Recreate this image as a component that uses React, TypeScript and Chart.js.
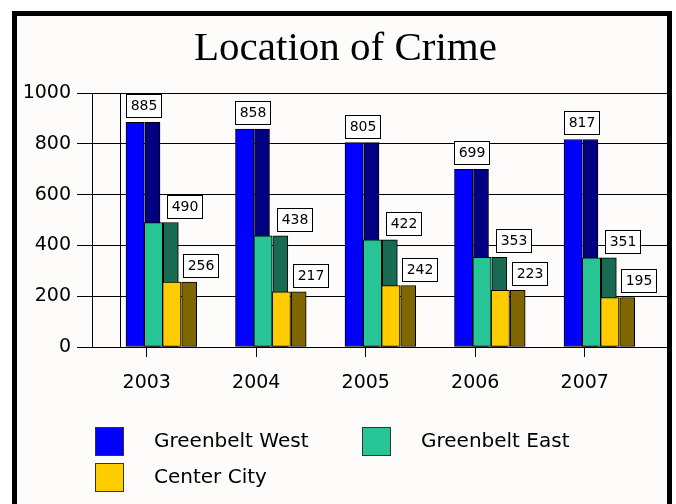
import React, { useEffect, useRef } from "react";
import { Chart, registerables } from "chart.js";

Chart.register(...registerables);

// ---- data ----
const years = ["2003", "2004", "2005", "2006", "2007"];
const seriesNames = ["Greenbelt West", "Greenbelt East", "Center City"];
const westValues = [885, 858, 805, 699, 817];
const eastValues = [490, 438, 422, 353, 351];
const centerValues = [256, 217, 242, 223, 195];
const yTickValues = [0, 200, 400, 600, 800, 1000];

// ---- styles ----
const frontColors = ["#0000ff", "#27c595", "#ffcc00"];
const sideColors = ["#000080", "#186b52", "#7f6600"];
const SANS = "'DejaVu Sans', 'Noto Sans', sans-serif";
const SERIF = "'Liberation Serif', 'DejaVu Serif', serif";

// ---- layout (pixel geometry, not data) ----
const PITCH = 109.5; // px per category
const X_MIN = -0.5;
const X_SPAN = 575 / PITCH;
const FRONT_WIDTH = 55 / 3;
const SIDE_WIDTH = 15;
// horizontal offsets (px) of each face from the category tick
const FRONT_OFFSETS = [-11.58, 6.75, 25.08];
const SIDE_OFFSETS = [5.75, 24.08, 42.42];
const WALL_DEPTH = 28;
const LABEL_SHIFT = [8, 31, 29];
const LEGEND_X = [95, 362];
const LEGEND_Y = [427, 463];

const seriesValues = [westValues, eastValues, centerValues];
const toPoints = (vals: number[]) => vals.map((v, i) => ({ x: i, y: v }));
const intTicks = (axis: any) => {
  axis.ticks = years.map((_, i) => ({ value: i }));
};

const backWall = {
  id: "backWall",
  beforeDatasetsDraw(chart: any) {
    const { ctx, chartArea } = chart;
    ctx.save();
    ctx.strokeStyle = "#000";
    ctx.lineWidth = 1;
    const x = Math.round(chartArea.left + WALL_DEPTH) + 0.5;
    ctx.beginPath();
    ctx.moveTo(x, chartArea.top);
    ctx.lineTo(x, chartArea.bottom);
    ctx.stroke();
    ctx.restore();
  },
};

const valueBoxes = {
  id: "valueBoxes",
  afterDatasetsDraw(chart: any) {
    const ctx = chart.ctx;
    ctx.save();
    ctx.font = `14px ${SANS}`;
    ctx.textAlign = "center";
    ctx.textBaseline = "middle";
    for (let s = 0; s < seriesNames.length; s++) {
      const meta = chart.getDatasetMeta(s);
      const ds = chart.data.datasets[s];
      meta.data.forEach((el: any, i: number) => {
        const text = String(ds.data[i].y);
        const w = Math.round(ctx.measureText(text).width + 8);
        const h = 23;
        const cx = el.x + LABEL_SHIFT[s];
        const top = Math.round(Math.max(chart.chartArea.top - 2, el.y - 5 - h));
        const left = Math.round(cx - w / 2);
        ctx.fillStyle = "#ffffff";
        ctx.fillRect(left, top, w, h);
        ctx.strokeStyle = "#000";
        ctx.lineWidth = 1;
        ctx.strokeRect(left + 0.5, top + 0.5, w, h);
        ctx.fillStyle = "#000";
        ctx.fillText(text, left + w / 2 + 0.5, top + h / 2 + 1);
      });
    }
    ctx.restore();
  },
};

const boxLegend = {
  id: "boxLegend",
  afterDraw(chart: any) {
    const ctx = chart.ctx;
    ctx.save();
    ctx.font = `20px ${SANS}`;
    ctx.textAlign = "left";
    ctx.textBaseline = "middle";
    for (let k = 0; k < seriesNames.length; k++) {
      const ds = chart.data.datasets[k];
      const x = LEGEND_X[k % 2];
      const y = LEGEND_Y[Math.floor(k / 2)];
      ctx.fillStyle = ds.backgroundColor;
      ctx.fillRect(x, y, 29, 29);
      ctx.strokeStyle = "#333";
      ctx.lineWidth = 1;
      ctx.strokeRect(x + 0.5, y + 0.5, 28, 28);
      ctx.fillStyle = "#000";
      ctx.fillText(ds.label, x + 59, y + 15);
    }
    ctx.restore();
  },
};

const hiddenX = (shiftPx: number) => ({
  type: "linear",
  axis: "x",
  position: "bottom",
  display: false,
  offset: false,
  bounds: "data",
  min: X_MIN - shiftPx / PITCH,
  max: X_MIN + X_SPAN - shiftPx / PITCH,
  afterBuildTicks: intTicks,
  ticks: { stepSize: 1, includeBounds: false },
  grid: { offset: false },
});

export default function App() {
  const ref = useRef<HTMLCanvasElement>(null);

  useEffect(() => {
    document.body.style.margin = "0";
    const canvas = ref.current!;
    const fronts = seriesNames.map((name, s) => ({
      label: name,
      data: toPoints(seriesValues[s]),
      backgroundColor: frontColors[s],
      borderColor: "#000",
      borderWidth: 1,
      borderSkipped: false,
      xAxisID: "f" + s,
      order: 0,
      grouped: false,
      barThickness: FRONT_WIDTH,
    }));
    const sides = seriesNames.map((name, s) => ({
      label: name + " (depth)",
      data: toPoints(seriesValues[s]),
      backgroundColor: sideColors[s],
      borderColor: "#000",
      borderWidth: 1,
      borderSkipped: false,
      xAxisID: "d" + s,
      order: 1,
      grouped: false,
      barThickness: SIDE_WIDTH,
    }));

    const faceScales: any = {};
    seriesNames.forEach((_, s) => {
      faceScales["f" + s] = hiddenX(FRONT_OFFSETS[s]);
      faceScales["d" + s] = hiddenX(SIDE_OFFSETS[s]);
    });

    const tickFont = { family: SANS, size: 19 };
    const chart = new Chart(canvas, {
      type: "bar",
      data: { datasets: [...fronts, ...sides] as any },
      plugins: [backWall, valueBoxes, boxLegend],
      options: {
        animation: false,
        responsive: false,
        maintainAspectRatio: false,
        layout: { padding: { top: 15, left: 24, right: 9, bottom: 112 } },
        plugins: {
          legend: { display: false },
          tooltip: { enabled: false },
          title: {
            display: true,
            text: "Location of Crime",
            color: "#000",
            font: { family: SERIF, size: 41, weight: "normal" as any },
            padding: { top: 10, bottom: 18.8 },
          },
        },
        scales: {
          x: {
            type: "linear",
            position: "bottom",
            offset: false,
            bounds: "data",
            min: X_MIN,
            max: X_MIN + X_SPAN,
            afterBuildTicks: intTicks,
            ticks: {
              color: "#000",
              font: tickFont,
              padding: 14.5,
              autoSkip: false,
              maxRotation: 0,
              stepSize: 1,
              includeBounds: false,
              callback: (v: any) => years[v] ?? "",
            },
            grid: { offset: false, drawOnChartArea: false, drawTicks: true, tickLength: 10, color: "#000" },
            border: { display: true, color: "#000", width: 1 },
            afterFit: (s: any) => {
              s.height = 45;
            },
          },
          ...faceScales,
          y: {
            type: "linear",
            min: 0,
            max: 1000,
            afterBuildTicks: (axis: any) => {
              axis.ticks = yTickValues.map((v) => ({ value: v }));
            },
            ticks: { color: "#000", font: tickFont, padding: 6, callback: (v: any) => String(v) },
            grid: { color: "#000", lineWidth: 1, tickLength: 15, drawTicks: true },
            border: { display: true, color: "#000", width: 1 },
            afterFit: (s: any) => {
              s.width = 68;
            },
          },
        } as any,
      },
    });
    return () => chart.destroy();
  }, []);

  return (
    <div style={{ position: "relative", width: 676, height: 504, overflow: "hidden", background: "#fff" }}>
      <div
        style={{
          position: "absolute",
          left: 12,
          top: 11,
          width: 660,
          height: 520,
          boxSizing: "border-box",
          borderTop: "5px solid #000",
          borderLeft: "5px solid #000",
          borderRight: "5px solid #000",
          background: "#fdfcfa",
        }}
      />
      <canvas
        ref={ref}
        width={676}
        height={504}
        style={{ position: "absolute", left: 0, top: 0, width: 676, height: 504 }}
      />
    </div>
  );
}
